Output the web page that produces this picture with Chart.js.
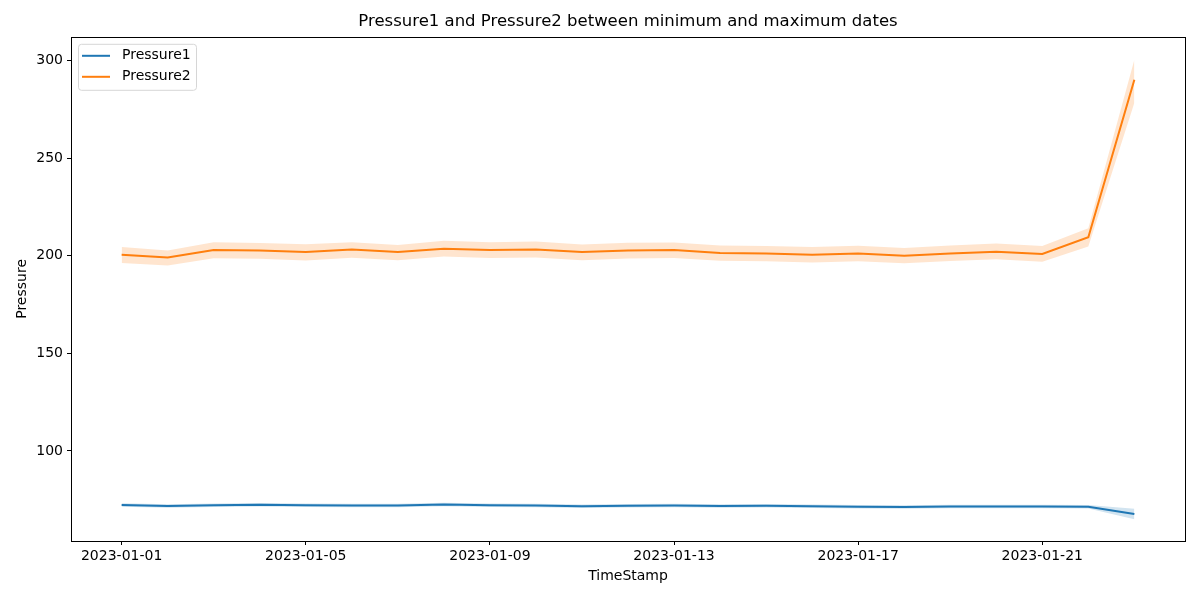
<!DOCTYPE html>
<html>
<head>
<meta charset="utf-8">
<script src="https://cdn.jsdelivr.net/npm/chart.js@4/dist/chart.umd.min.js"></script>
<style>
  html, body { margin: 0; padding: 0; background: #fff; }
  #wrap { width: 1200px; height: 600px; }
</style>
</head>
<body>
<div id="wrap"><canvas id="c" width="1200" height="600"></canvas></div>
<script>
// ── data ────────────────────────────────────────────────
const dates = [
  "2023-01-01", "2023-01-02", "2023-01-03", "2023-01-04", "2023-01-05", "2023-01-06",
  "2023-01-07", "2023-01-08", "2023-01-09", "2023-01-10", "2023-01-11", "2023-01-12",
  "2023-01-13", "2023-01-14", "2023-01-15", "2023-01-16", "2023-01-17", "2023-01-18",
  "2023-01-19", "2023-01-20", "2023-01-21", "2023-01-22", "2023-01-23",
];
const tickDates = ["2023-01-01", "2023-01-05", "2023-01-09", "2023-01-13", "2023-01-17", "2023-01-21"];
const yTicks = [100, 150, 200, 250, 300];

const pressure1 = [72.3, 71.7, 72.1, 72.4, 72.1, 72.0, 72.0, 72.5, 72.1, 72.0, 71.6, 71.9,
                   72.0, 71.8, 71.9, 71.6, 71.3, 71.2, 71.5, 71.5, 71.5, 71.3, 67.6];
const pressure1High = [73.2, 72.6, 73.0, 73.3, 73.0, 72.9, 72.9, 73.4, 73.0, 72.9, 72.5, 72.8,
                       72.9, 72.7, 72.8, 72.5, 72.2, 72.1, 72.4, 72.4, 72.4, 72.2, 70.3];
const pressure1Low = [71.4, 70.8, 71.2, 71.5, 71.2, 71.1, 71.1, 71.6, 71.2, 71.1, 70.7, 71.0,
                      71.1, 70.9, 71.0, 70.7, 70.4, 70.3, 70.6, 70.6, 70.6, 70.4, 65.0];

const pressure2 = [200.5, 199.1, 203.0, 202.8, 202.0, 203.2, 202.0, 203.6, 203.0, 203.3, 202.0, 202.8,
                   203.0, 201.5, 201.2, 200.6, 201.2, 200.1, 201.2, 202.1, 201.0, 209.5, 290.3];
const pressure2High = [204.5, 202.8, 207.0, 206.6, 206.0, 207.0, 205.6, 207.7, 207.0, 207.3, 205.8, 206.7,
                       206.9, 205.3, 205.0, 204.5, 205.2, 204.0, 205.3, 206.3, 205.0, 214.2, 300.5];
const pressure2Low = [196.3, 195.0, 198.8, 198.5, 197.6, 199.0, 197.8, 199.7, 198.9, 199.2, 197.8, 198.6,
                      198.9, 197.5, 197.2, 196.6, 197.2, 196.2, 197.4, 198.3, 197.0, 204.8, 278.5];

// ── helpers ─────────────────────────────────────────────
const dayIndex = (s) => Math.round((Date.parse(s) - Date.parse(dates[0])) / 86400000);
const pts = (arr) => arr.map((v, i) => ({ x: dayIndex(dates[i]), y: v }));

const C0 = "#1f77b4";
const C1 = "#ff7f0e";

Chart.defaults.font.family = "'DejaVu Sans', sans-serif";
Chart.defaults.font.size = 14;
Chart.defaults.color = "#000";

// 枠線（4辺）
const framePlugin = {
  id: "frame",
  afterDraw(chart) {
    const { ctx, chartArea: a } = chart;
    ctx.save();
    ctx.strokeStyle = "#000";
    ctx.lineWidth = 1;
    ctx.strokeRect(Math.round(a.left) + 0.5, Math.round(a.top) + 0.5,
                   Math.round(a.right - a.left), Math.round(a.bottom - a.top));
    ctx.restore();
  },
};

// matplotlib風の凡例（プロット内左上）
const legendPlugin = {
  id: "innerLegend",
  afterDraw(chart) {
    const { ctx, chartArea: a } = chart;
    const items = chart.data.datasets.filter((d) => d.showInLegend);
    const x = a.left + 7, y = a.top + 7, w = 118, h = 46;
    ctx.save();
    ctx.beginPath();
    ctx.roundRect(x + 0.5, y + 0.5, w, h, 3);
    ctx.fillStyle = "rgba(255,255,255,0.8)";
    ctx.fill();
    ctx.strokeStyle = "#d6d6d6";
    ctx.lineWidth = 1;
    ctx.stroke();
    ctx.font = "14px 'DejaVu Sans', sans-serif";
    ctx.textBaseline = "middle";
    items.forEach((d, i) => {
      const ly = y + 12 + i * 21;
      ctx.beginPath();
      ctx.moveTo(x + 4, ly);
      ctx.lineTo(x + 32, ly);
      ctx.strokeStyle = d.borderColor;
      ctx.lineWidth = 2;
      ctx.stroke();
      ctx.fillStyle = "#000";
      ctx.fillText(d.label, x + 44, ly);
    });
    ctx.restore();
  },
};

new Chart(document.getElementById("c"), {
  type: "line",
  plugins: [framePlugin, legendPlugin],
  data: {
    datasets: [
      { label: "Pressure1", showInLegend: true, data: pts(pressure1), borderColor: C0, borderWidth: 2,
        pointRadius: 0, fill: false, order: 0 },
      { label: "Pressure2", showInLegend: true, data: pts(pressure2), borderColor: C1, borderWidth: 2,
        pointRadius: 0, fill: false, order: 0 },
      { label: "p1hi", data: pts(pressure1High), borderWidth: 0, pointRadius: 0, fill: false, order: 1 },
      { label: "p1lo", data: pts(pressure1Low), borderWidth: 0, pointRadius: 0, fill: 2,
        backgroundColor: "rgba(31,119,180,0.2)", order: 1 },
      { label: "p2hi", data: pts(pressure2High), borderWidth: 0, pointRadius: 0, fill: false, order: 1 },
      { label: "p2lo", data: pts(pressure2Low), borderWidth: 0, pointRadius: 0, fill: 4,
        backgroundColor: "rgba(255,127,14,0.2)", order: 1 },
    ],
  },
  options: {
    responsive: false,
    animation: false,
    layout: { padding: { left: 0, right: 15, top: 0, bottom: 0 } },
    elements: { line: { tension: 0 } },
    plugins: {
      legend: { display: false },
      tooltip: { enabled: false },
      title: {
        display: true,
        fullSize: false,
        text: "Pressure1 and Pressure2 between minimum and maximum dates",
        font: { size: 16.5, weight: "normal" },
        color: "#000",
        padding: { top: 12, bottom: 5 },
      },
    },
    scales: {
      x: {
        type: "linear",
        min: -1.1,
        max: 23.1,
        afterBuildTicks: (s) => { s.ticks = tickDates.map((d) => ({ value: dayIndex(d) })); },
        afterFit: (s) => { s.height = 59; },
        ticks: {
          callback: (v) => dates[v] || "",
          maxRotation: 0,
          autoSkip: false,
          padding: 3,
          color: "#000",
        },
        grid: { drawOnChartArea: false, drawTicks: true, tickLength: 4, color: "#000" },
        border: { display: false },
        title: { display: true, text: "TimeStamp", padding: { top: 0, bottom: 15 } },
      },
      y: {
        min: 53.8,
        max: 312.3,
        afterBuildTicks: (s) => { s.ticks = yTicks.map((v) => ({ value: v })); },
        afterFit: (s) => { s.width = 71; },
        ticks: { padding: 4, color: "#000" },
        grid: { drawOnChartArea: false, drawTicks: true, tickLength: 4, color: "#000" },
        border: { display: false },
        title: { display: true, text: "Pressure", padding: { top: 14, bottom: 0 } },
      },
    },
  },
});
</script>
</body>
</html>
